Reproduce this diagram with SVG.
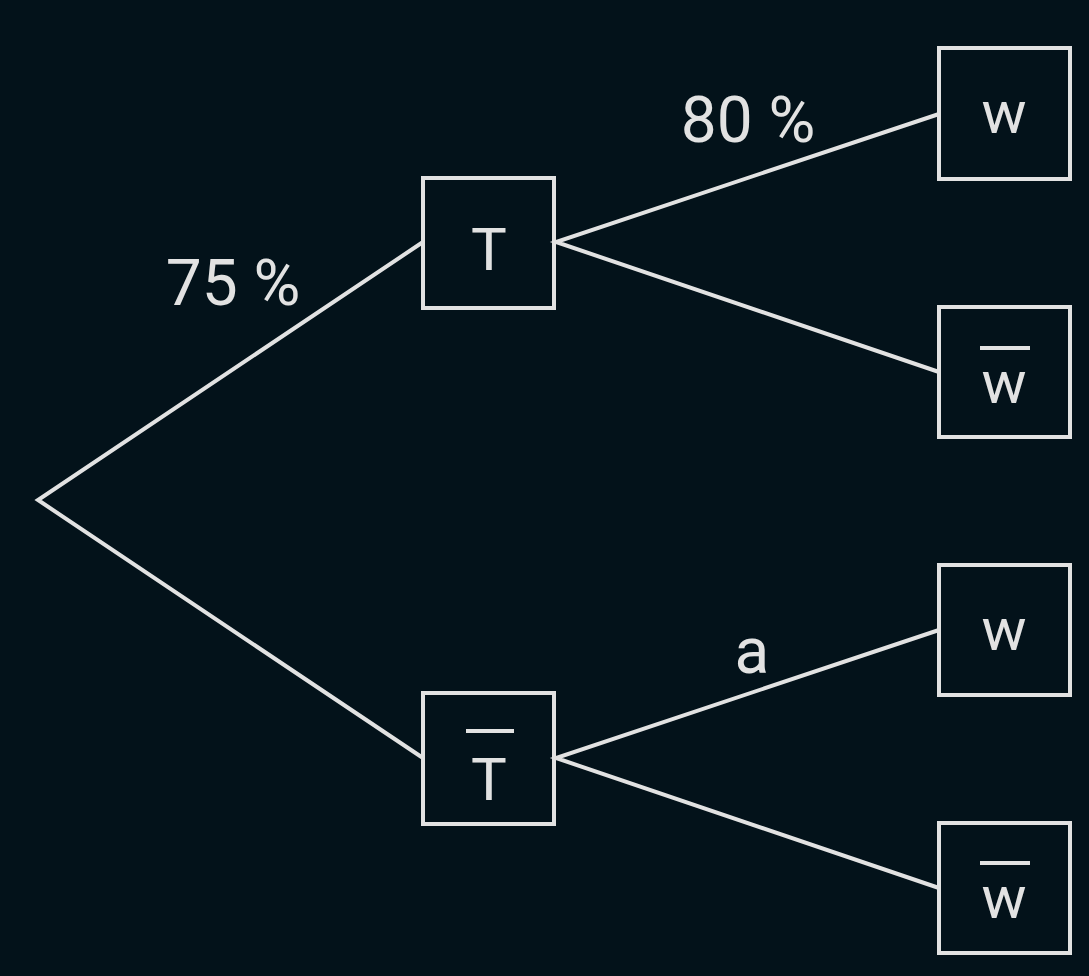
<svg xmlns="http://www.w3.org/2000/svg" width="1089" height="976" viewBox="0 0 1089 976">
<style>
.b{fill:none;stroke:#e2e2e2;stroke-width:4}
.l{stroke:#e2e2e2;stroke-width:4;fill:none}
.t{font-family:Roboto,"Liberation Sans",sans-serif;fill:#e2e2e2;text-anchor:middle}
</style>
<rect width="1089" height="976" fill="#03121a"/>
<g id="connectors">
<path class="l" d="M423,242 L38,500 L423,758"/>
<path class="l" d="M939,114 L556,242 L939,372"/>
<path class="l" d="M939,630 L556,758 L939,888"/>
</g>
<g id="labels">
<text class="t" x="233" y="305" font-size="64">75 %</text>
<text class="t" x="748" y="142" font-size="64">80 %</text>
<text class="t" x="752" y="673" font-size="64">a</text>
</g>
<g id="T"><rect class="b" x="423" y="178" width="131" height="130"/><text class="t" x="489" y="270" font-size="60">T</text></g>
<g id="Tbar"><rect class="b" x="423" y="693" width="131" height="131"/><line class="l" x1="466" y1="731" x2="514" y2="731"/><text class="t" x="489" y="800" font-size="60">T</text></g>
<g id="W1"><rect class="b" x="939" y="48" width="131" height="131"/><text class="t" x="1004" y="133" font-size="60">w</text></g>
<g id="Wbar1"><rect class="b" x="939" y="307" width="131" height="130"/><line class="l" x1="980" y1="348" x2="1030" y2="348"/><text class="t" x="1004" y="403" font-size="60">w</text></g>
<g id="W2"><rect class="b" x="939" y="565" width="131" height="130"/><text class="t" x="1004" y="650" font-size="60">w</text></g>
<g id="Wbar2"><rect class="b" x="939" y="823" width="131" height="130"/><line class="l" x1="980" y1="863" x2="1030" y2="863"/><text class="t" x="1004" y="918" font-size="60">w</text></g>
</svg>
